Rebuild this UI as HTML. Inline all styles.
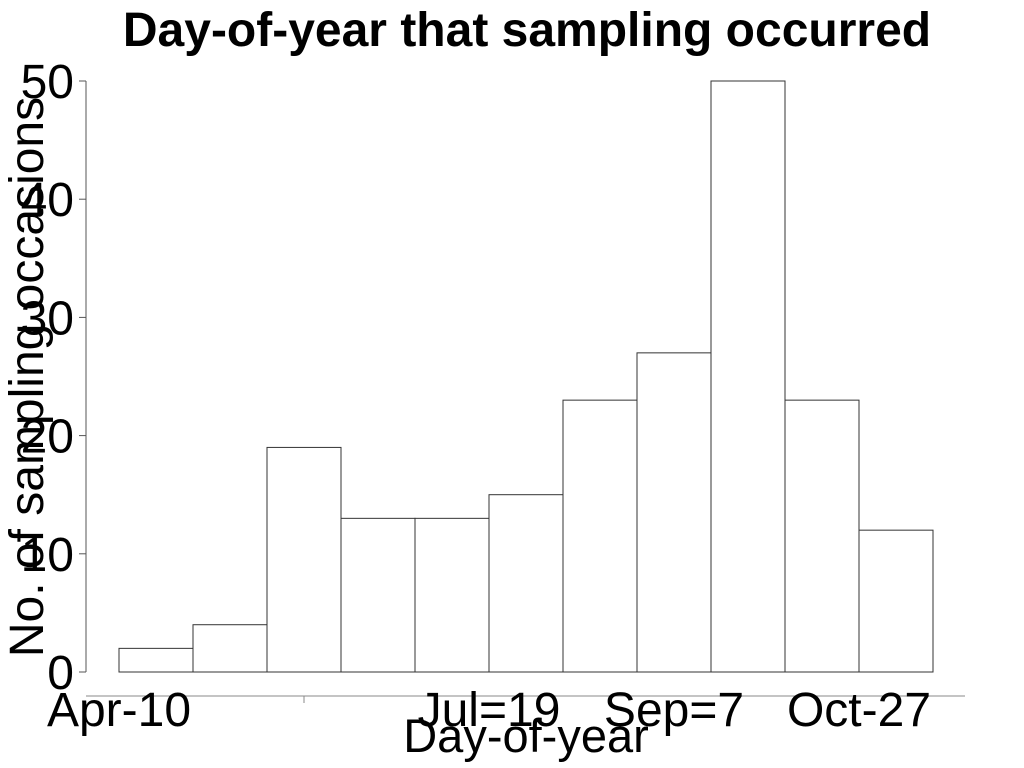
<!DOCTYPE html>
<html><head><meta charset="utf-8"><style>
html,body{margin:0;padding:0;background:#fff;width:1024px;height:768px;overflow:hidden}
svg text{font-family:"Liberation Sans",sans-serif}
</style></head><body>
<svg id="chart" width="1024" height="768" xmlns="http://www.w3.org/2000/svg">
<text x="527" y="46" font-size="48" font-weight="bold" text-anchor="middle">Day-of-year that sampling occurred</text>
<g id="bars"></g>
<g id="axes"></g>
<text x="526" y="752" font-size="47" text-anchor="middle">Day-of-year</text>
<text transform="translate(43,377) rotate(-90)" font-size="48" text-anchor="middle">No. of sampling occasions</text>
</svg>
<script>
const counts = [2,4,19,13,13,15,23,27,50,23,12];
const yTicks = [0,10,20,30,40,50];
const xLabels = ["Apr-10","Jul=19","Sep=7","Oct-27"];
const xLabelBins = [0,5,7.5,10];
const NS="http://www.w3.org/2000/svg";
const x0=119, bw=74, y0=672, yTop=81, yMax=50;
const xs=i=>x0+i*bw;
const ys=v=>y0-(v/yMax)*(y0-yTop);
const bars=document.getElementById('bars'), axes=document.getElementById('axes');
function mk(tag,attrs,parent){const e=document.createElementNS(NS,tag);for(const k in attrs)e.setAttribute(k,attrs[k]);parent.appendChild(e);return e;}
counts.forEach((c,i)=>{
  const r=mk('rect',{x:xs(i),y:ys(c),width:bw,height:y0-ys(c),fill:'#fff',stroke:'#333','stroke-width':1},bars);
  
  
});
const ya=mk('line',{x1:86,y1:ys(yMax),x2:86,y2:y0,stroke:'#555'},axes);


yTicks.forEach(t=>{
  mk('line',{x1:79,x2:86,y1:ys(t),y2:ys(t),stroke:'#555'},axes);
  const tx=mk('text',{x:74,y:ys(t)+17,'font-size':48,'text-anchor':'end'},axes);
  tx.textContent=t;
  
  
});
const xa=mk('line',{x1:86,y1:696,x2:965,y2:696,stroke:'#888'},axes);


mk('line',{x1:304,x2:304,y1:696,y2:703,stroke:'#888'},axes);
xLabels.forEach((l,i)=>{
  const tx=mk('text',{x:xs(xLabelBins[i]),y:726,'font-size':48,'text-anchor':'middle'},axes);
  tx.textContent=l;
  
  
});
</script>
</body></html>
